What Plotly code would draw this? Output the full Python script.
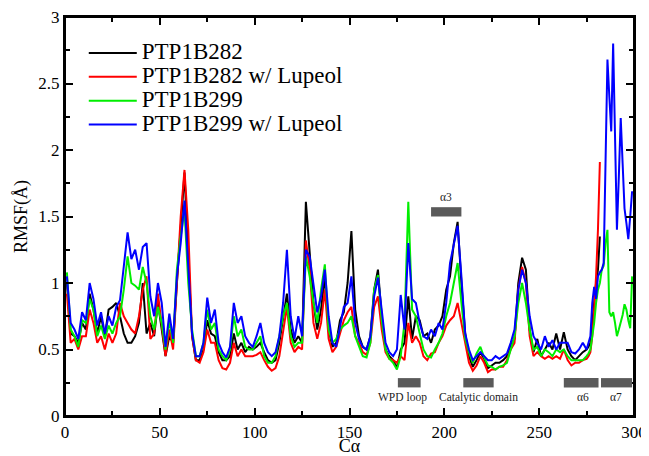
import plotly.graph_objects as go

# Residue grid: odd residues 1..275, then every residue to 299
RES_ODD = list(range(1, 276, 2))
RES_TAIL_282 = [276, 277, 278, 279, 280, 281, 282]
RES_TAIL_299 = list(range(276, 300))

BLACK_ODD = [
    1.00, 0.62, 0.60, 0.55, 0.70, 0.65, 0.92, 0.80, 0.62, 0.75,   # 1-19
    0.60, 0.80, 0.82, 0.85, 0.75, 0.62, 0.55, 0.55, 0.60, 0.70,   # 21-39
    1.00, 0.62, 0.70, 0.60, 0.85, 0.65, 0.45, 0.60, 0.55, 1.00,   # 41-59
    1.45, 1.83, 1.20, 0.60, 0.42, 0.42, 0.50, 0.72, 0.62, 0.60,   # 61-79
    0.48, 0.42, 0.42, 0.45, 0.62, 0.50, 0.55, 0.48, 0.52, 0.50,   # 81-99
    0.52, 0.55, 0.48, 0.42, 0.40, 0.42, 0.55, 0.75, 0.92, 0.65,   # 101-119
    0.55, 0.60, 0.55, 1.61, 1.20, 0.85, 0.65, 0.80, 1.05, 0.65,   # 121-139
    0.52, 0.55, 0.72, 0.78, 1.00, 1.39, 0.80, 0.60, 0.52, 0.50,   # 141-159
    0.60, 0.95, 1.10, 0.75, 0.50, 0.45, 0.42, 0.36, 0.50, 0.55,   # 161-179
    0.90, 0.58, 0.75, 0.72, 0.60, 0.62, 0.55, 0.65, 0.68, 0.75,   # 181-199
    0.95, 1.05, 1.30, 1.46, 1.00, 0.62, 0.45, 0.37, 0.42, 0.48,   # 201-219
    0.43, 0.36, 0.38, 0.40, 0.40, 0.42, 0.45, 0.53, 0.58, 1.00,   # 221-239
    1.19, 1.10, 0.65, 0.48, 0.58, 0.45, 0.50, 0.55, 0.50, 0.62,   # 241-259
    0.50, 0.63, 0.50, 0.45, 0.42, 0.45, 0.48, 0.50,               # 261-275
]
BLACK_TAIL = [0.52, 0.55, 0.70, 0.88, 1.00, 1.10, 1.35]

RED_ODD = [
    0.92, 0.55, 0.58, 0.50, 0.60, 0.60, 0.80, 0.70, 0.55, 0.60,
    0.50, 0.62, 0.55, 0.62, 0.85, 0.75, 0.70, 0.65, 0.62, 0.75,
    0.95, 1.05, 0.58, 0.62, 0.92, 0.70, 0.45, 0.65, 0.50, 1.00,
    1.50, 1.85, 1.40, 0.60, 0.42, 0.40, 0.48, 0.65, 0.55, 0.55,
    0.42, 0.36, 0.35, 0.40, 0.55, 0.45, 0.50, 0.45, 0.45, 0.45,
    0.46, 0.48, 0.42, 0.37, 0.34, 0.36, 0.45, 0.65, 0.82, 0.55,
    0.48, 0.52, 0.50, 1.32, 1.10, 0.70, 0.58, 0.70, 0.95, 0.58,
    0.48, 0.52, 0.62, 0.72, 0.78, 0.82, 0.60, 0.55, 0.48, 0.46,
    0.55, 0.82, 0.90, 0.65, 0.48, 0.43, 0.42, 0.40, 0.45, 0.42,
    0.70, 0.55, 0.60, 0.55, 0.45, 0.42, 0.47, 0.48, 0.55, 0.60,
    0.68, 0.72, 0.75, 0.85, 0.70, 0.55, 0.40, 0.34, 0.38, 0.45,
    0.40, 0.33, 0.35, 0.35, 0.37, 0.37, 0.42, 0.50, 0.55, 0.95,
    1.12, 1.00, 0.60, 0.45, 0.48, 0.45, 0.43, 0.45, 0.43, 0.45,
    0.43, 0.50, 0.42, 0.38, 0.40, 0.40, 0.42, 0.43,
]
RED_TAIL = [0.45, 0.48, 0.60, 0.80, 1.05, 1.40, 1.91]

GREEN_ODD = [
    1.08, 0.65, 0.60, 0.52, 0.72, 0.70, 0.88, 0.80, 0.60, 0.68,
    0.58, 0.68, 0.62, 0.70, 0.75, 0.95, 1.20, 1.00, 0.98, 0.95,
    1.12, 1.00, 0.75, 0.65, 0.82, 0.70, 0.50, 0.72, 0.55, 1.10,
    1.35, 1.55, 1.00, 0.65, 0.45, 0.45, 0.55, 0.80, 0.65, 0.70,
    0.50, 0.45, 0.42, 0.50, 0.75, 0.60, 0.65, 0.52, 0.50, 0.50,
    0.55, 0.60, 0.45, 0.40, 0.40, 0.45, 0.60, 0.75, 0.85, 0.60,
    0.52, 0.55, 0.55, 1.20, 1.05, 0.85, 0.70, 0.95, 1.14, 0.65,
    0.55, 0.58, 0.65, 0.68, 0.70, 0.75, 0.60, 0.52, 0.45, 0.44,
    0.55, 0.95, 1.06, 0.72, 0.50, 0.43, 0.40, 0.35, 0.45, 0.70,
    1.61, 0.80, 0.75, 0.62, 0.50, 0.45, 0.44, 0.50, 0.55, 0.62,
    0.75, 0.85, 1.00, 1.15, 0.85, 0.58, 0.48, 0.40, 0.47, 0.52,
    0.44, 0.38, 0.37, 0.35, 0.37, 0.38, 0.40, 0.50, 0.60, 0.85,
    1.00, 0.85, 0.65, 0.50, 0.52, 0.45, 0.50, 0.48, 0.45, 0.50,
    0.48, 0.50, 0.45, 0.42, 0.42, 0.42, 0.42, 0.45,
]
GREEN_TAIL = [0.47, 0.50, 0.60, 0.70, 0.85, 0.95, 1.00, 1.10, 1.13, 1.30,
              1.40, 0.78, 0.75, 0.78, 0.70, 0.60, 0.65, 0.70, 0.76, 0.84,
              0.80, 0.72, 0.66, 1.05]

BLUE_ODD = [
    1.05, 0.70, 0.65, 0.58, 0.78, 0.72, 1.00, 0.88, 0.68, 0.78,
    0.62, 0.75, 0.68, 0.82, 0.87, 1.15, 1.38, 1.18, 1.25, 1.10,
    1.27, 1.30, 0.90, 0.75, 1.00, 0.85, 0.52, 0.77, 0.58, 1.05,
    1.30, 1.62, 1.15, 0.62, 0.45, 0.45, 0.55, 0.89, 0.70, 0.80,
    0.55, 0.48, 0.44, 0.52, 0.85, 0.70, 0.75, 0.60, 0.55, 0.52,
    0.60, 0.70, 0.55, 0.48, 0.45, 0.48, 0.60, 0.85, 1.25, 0.75,
    0.58, 0.75, 0.60, 1.25, 1.20, 1.00, 0.78, 0.90, 1.10, 0.75,
    0.55, 0.52, 0.68, 0.82, 0.85, 1.05, 0.70, 0.58, 0.52, 0.50,
    0.60, 0.90, 1.04, 0.78, 0.55, 0.48, 0.45, 0.50, 0.91, 0.65,
    1.30, 0.88, 0.85, 0.70, 0.60, 0.58, 0.65, 0.60, 0.70, 0.65,
    0.85, 1.15, 1.30, 1.43, 1.05, 0.62, 0.50, 0.42, 0.45, 0.48,
    0.45, 0.42, 0.42, 0.45, 0.43, 0.45, 0.47, 0.55, 0.65, 0.95,
    1.10, 1.00, 0.75, 0.60, 0.55, 0.50, 0.60, 0.52, 0.57, 0.50,
    0.55, 0.55, 0.55, 0.48, 0.47, 0.50, 0.55, 0.50,
]
BLUE_TAIL = [0.55, 0.60, 0.85, 0.97, 0.88, 1.05, 1.08, 1.10, 1.15, 1.90,
             2.68, 2.40, 2.14, 2.80, 2.10, 1.40, 1.80, 2.24, 1.90, 1.56,
             1.45, 1.33, 1.50, 1.69]

SERIES = [
    ("PTP1B282", "#000000", RES_ODD + RES_TAIL_282, BLACK_ODD + BLACK_TAIL),
    ("PTP1B282 w/ Lupeol", "#ff0000", RES_ODD + RES_TAIL_282, RED_ODD + RED_TAIL),
    ("PTP1B299", "#00ee00", RES_ODD + RES_TAIL_299, GREEN_ODD + GREEN_TAIL),
    ("PTP1B299 w/ Lupeol", "#0000ff", RES_ODD + RES_TAIL_299, BLUE_ODD + BLUE_TAIL),
]

# Structural regions: (label, start, end, bar y, label x, label y)
REGIONS = [
    ("WPD loop", 175.5, 187.5, 0.25, 178, 0.14),
    ("Catalytic domain", 210, 226, 0.25, 218, 0.14),
    ("\u03b16", 263, 281.3, 0.25, 273, 0.14),
    ("\u03b17", 282.6, 299, 0.25, 290.5, 0.14),
    ("\u03b13", 193, 209, 1.535, 201, 1.65),
]

FONT = "Liberation Serif"
X_TICKS = [0, 50, 100, 150, 200, 250, 300]
X_MINOR = [25, 75, 125, 175, 225, 275]
Y_TICKS = [0, 0.5, 1, 1.5, 2, 2.5, 3]
Y_TICKTEXT = ["0", "0.5", "1", "1.5", "2", "2.5", "3"]
Y_MINOR = [0.25, 0.75, 1.25, 1.75, 2.25, 2.75]

fig = go.Figure()
for name, color, xs, ys in SERIES:
    fig.add_trace(go.Scatter(
        x=xs, y=ys, mode="lines",
        name='<span style="font-size:23px">' + name + "</span>",
        line=dict(color=color, width=2)))

# invisible trace to activate mirrored top/right axes (carrying minor ticks)
fig.add_trace(go.Scatter(x=[None], y=[None], xaxis="x2", yaxis="y2",
                         showlegend=False, hoverinfo="skip"))

for label, x0, x1, yb, lx, yl in REGIONS:
    fig.add_shape(type="rect", x0=x0, x1=x1, y0=yb - 0.035, y1=yb + 0.035,
                  xref="x", yref="y", fillcolor="#5a5a5a", line=dict(width=0))
    fig.add_annotation(x=lx, y=yl, text=label, showarrow=False, xref="x", yref="y",
                       font=dict(family=FONT, size=11.5, color="#222"))

# plot frame
fig.add_shape(type="rect", xref="paper", yref="paper", x0=0, x1=1, y0=0, y1=1,
              line=dict(color="black", width=2), fillcolor="rgba(0,0,0,0)", layer="above")

tick_common = dict(ticks="inside", ticklen=8, tickwidth=2, tickcolor="black",
                   showgrid=False, zeroline=False, automargin=False)

# page body has an 8px margin, so the figure is sized 8px smaller than the window
fig.update_layout(
    width=641, height=448,
    margin=dict(l=57, r=15, t=9, b=40),
    plot_bgcolor="white", paper_bgcolor="white",
    showlegend=True,
    xaxis=dict(range=[0, 300], tickvals=X_TICKS, showline=True, linecolor="black",
               linewidth=2, mirror="ticks",
               minor=dict(tickvals=X_MINOR, ticklen=5, tickwidth=2, tickcolor="black",
                          ticks="inside"),
               tickfont=dict(family=FONT, size=17, color="black"),
               title=dict(text="C\u03b1", font=dict(family=FONT, size=18, color="black"),
                          standoff=6),
               **tick_common),
    yaxis=dict(range=[0, 3], tickvals=Y_TICKS, ticktext=Y_TICKTEXT, showline=True,
               linecolor="black", linewidth=2, mirror="ticks",
               ticklabeloverflow="allow",
               minor=dict(tickvals=Y_MINOR, ticklen=5, tickwidth=2, tickcolor="black",
                          ticks="inside"),
               tickfont=dict(family=FONT, size=17, color="black"),
               title=dict(text="RMSF(\u00c5)", font=dict(family=FONT, size=18, color="black"),
                          standoff=6),
               **tick_common),
    xaxis2=dict(range=[0, 300], overlaying="x", side="top", tickvals=X_TICKS,
                showticklabels=False, showline=True, linecolor="black", linewidth=2,
                minor=dict(tickvals=X_MINOR, ticklen=5, tickwidth=2, tickcolor="black",
                           ticks="inside"),
                **tick_common),
    yaxis2=dict(range=[0, 3], overlaying="y", side="right", tickvals=Y_TICKS,
                showticklabels=False, showline=True, linecolor="black", linewidth=2,
                minor=dict(tickvals=Y_MINOR, ticklen=5, tickwidth=2, tickcolor="black",
                           ticks="inside"),
                **tick_common),
    legend=dict(x=0.033, y=0.952, xanchor="left", yanchor="top",
                bgcolor="rgba(0,0,0,0)", font=dict(family=FONT, size=16, color="black"),
                tracegroupgap=0, itemwidth=48),
)

fig.write_html("out.html")
